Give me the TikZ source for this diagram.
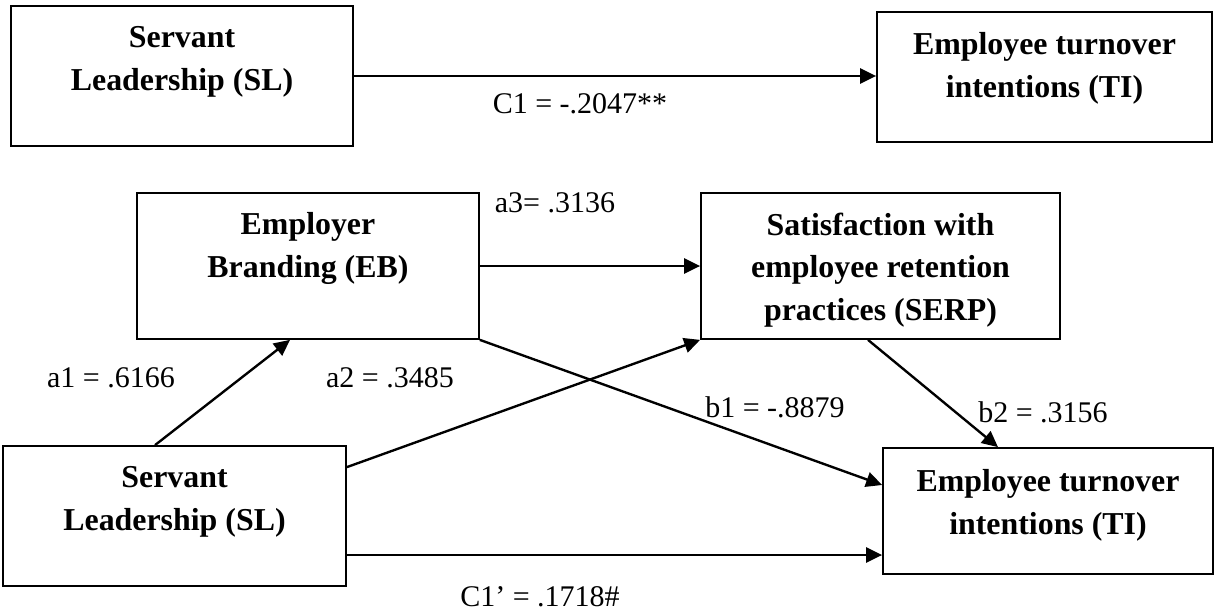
\documentclass[tikz,border=0pt]{standalone}
\usepackage{fontspec}
\setmainfont{Liberation Serif}
\usetikzlibrary{positioning,arrows.meta}

\begin{document}
\begin{tikzpicture}[x=0.4pt, y=-0.4pt, font=\fontsize{12}{17}\selectfont]

		% Styles
		\tikzset{
			varbox/.style={draw, rectangle, line width=0.7pt, inner sep=0pt},
			boxtext/.style={font=\fontsize{12.75}{17}\selectfont\bfseries, align=center, inner sep=0pt},
			link/.style={-{Triangle[length=6.4pt, width=6pt]}, line width=0.95pt},
			coef/.style={inner sep=0pt}
		}

		\useasboundingbox (0,0) rectangle (1214,613);

		% Total effect
		\node (slTop) [varbox, minimum width=136.8pt, minimum height=56pt] at (182,76) {};
		\node (tiTop) [varbox, minimum width=134pt, minimum height=52pt] at (1044.5,77) {};
		\node (slTopText) [boxtext, below=8.4pt of slTop.north] {Servant\\Leadership (SL)};
		\node (tiTopText) [boxtext, below=8.4pt of tiTop.north] {Employee turnover\\intentions (TI)};

		% Mediation model
		\node (eb) [varbox, minimum width=136.8pt, minimum height=58.4pt] at (308,266) {};
		\node (serp) [varbox, minimum width=143.6pt, minimum height=58.4pt] at (880.5,266) {};
		\node (slB) [varbox, minimum width=137.2pt, minimum height=56pt] at (174.5,516) {};
		\node (tiB) [varbox, minimum width=132pt, minimum height=50.4pt] at (1048,511) {};
		\node (ebText) [boxtext, below=8pt of eb.north] {Employer\\Branding (EB)};
		\node (serpText) [boxtext, below=8pt of serp.north] {Satisfaction with\\employee retention\\practices (SERP)};
		\node (slBText) [boxtext, below=8.4pt of slB.north] {Servant\\Leadership (SL)};
		\node (tiBText) [boxtext, below=8.8pt of tiB.north] {Employee turnover\\intentions (TI)};

		% Connections
		\draw[link] (slTop.east) -- (slTop.east -| tiTop.west);
		\draw[link] (eb.east) -- (serp.west);
		\draw[link] ([xshift=-7.8pt]slB.north) -- ([xshift=-7.2pt]eb.south);
		\draw[link] ([yshift=-8.8pt]slB.north east) -- (serp.south west);
		\draw[link] (eb.south east) -- ([yshift=10.4pt]tiB.west);
		\draw[link] ([xshift=-5pt]serp.south) -- ([xshift=-20pt]tiB.north);
		\coordinate (slOut) at ([yshift=-15.6pt]slB.east);
		\draw[link] (slOut) -- (slOut -| tiB.west);

		% Coefficients
		\node (c1) [coef] at (580,104) {C1 = -.2047**};
		\node (a3) [coef] at (555,203) {a3= .3136};
		\node (a1) [coef] at (111,378) {a1 = .6166};
		\node (a2) [coef] at (390,378) {a2 = .3485};
		\node (b1) [coef] at (775,407) {b1 = -.8879};
		\node (b2) [coef] at (1043,412) {b2 = .3156};
		\node (c1p) [coef] at (540,597) {C1’ = .1718\#};

	\end{tikzpicture}
\end{document}
